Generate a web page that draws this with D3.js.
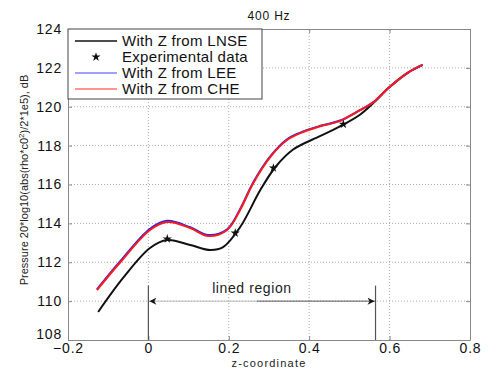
<!DOCTYPE html>
<html>
<head>
<meta charset="utf-8">
<script src="https://cdn.jsdelivr.net/npm/d3@7"></script>
<style>
  body { margin: 0; background: #fff; }
  text { font-family: "Liberation Sans", Arial, sans-serif; }
</style>
</head>
<body>
<div id="chart"></div>
<script>
// z-coordinate samples and pressure levels (dB)
const lnseZ = [-0.125, -0.063, 0.004, 0.047, 0.104, 0.154, 0.186, 0.228, 0.278, 0.316, 0.36, 0.428, 0.485, 0.527, 0.56, 0.597, 0.644, 0.682];
const lnseP = [109.44, 111.19, 112.73, 113.14, 112.89, 112.63, 112.78, 113.8, 115.7, 116.9, 117.8, 118.5, 119.08, 119.6, 120.2, 120.96, 121.73, 122.15];

const cheZ = [-0.128, -0.07, 0.004, 0.047, 0.104, 0.149, 0.196, 0.228, 0.261, 0.303, 0.345, 0.385, 0.428, 0.477, 0.527, 0.56, 0.597, 0.644, 0.682];
const cheP = [110.57, 112.0, 113.66, 114.07, 113.76, 113.35, 113.66, 114.69, 116.08, 117.41, 118.29, 118.7, 119.0, 119.27, 119.83, 120.24, 120.96, 121.73, 122.15];
const leeP = [110.6, 112.05, 113.72, 114.13, 113.8, 113.4, 113.7, 114.73, 116.12, 117.45, 118.33, 118.73, 119.02, 119.29, 119.84, 120.24, 120.96, 121.73, 122.15];

const expZ = [0.047, 0.216, 0.311, 0.485];
const expP = [113.2, 113.5, 116.85, 119.1];

const xTicks = [-0.2, 0, 0.2, 0.4, 0.6, 0.8];
const yTicks = [108, 110, 112, 114, 116, 118, 120, 122, 124];

const legendLabels = ['With Z from LNSE', 'Experimental data', 'With Z from LEE', 'With Z from CHE'];
const linedRegion = [0, 0.565];
const arrowLevel = 110;
const markerTop = 110.8;

const width = 488, height = 368;
const margin = { top: 29, right: 18, bottom: 28, left: 68 };

const svg = d3.select('#chart').append('svg')
  .attr('width', width)
  .attr('height', height);

const xScale = d3.scaleLinear().domain([-0.2, 0.8]).range([margin.left, width - margin.right]);
const yScale = d3.scaleLinear().domain([108, 124]).range([height - margin.bottom, margin.top]);

const x0 = margin.left, x1 = width - margin.right;
const y0 = height - margin.bottom, y1 = margin.top;

// dotted grid
svg.append('g').selectAll('line').data(xTicks.slice(1, -1)).enter().append('line')
  .attr('x1', d => xScale(d)).attr('x2', d => xScale(d))
  .attr('y1', y0).attr('y2', y1)
  .attr('stroke', '#aaa').attr('stroke-dasharray', '1,2');
svg.append('g').selectAll('line').data(yTicks.slice(1, -1)).enter().append('line')
  .attr('y1', d => yScale(d)).attr('y2', d => yScale(d))
  .attr('x1', x0).attr('x2', x1)
  .attr('stroke', '#aaa').attr('stroke-dasharray', '1,2');

// axes (matlab style, ticks inward, box)
const axisStyle = g => {
  g.select('.domain').attr('stroke', '#888');
  g.selectAll('.tick line').attr('stroke', '#888');
  g.selectAll('.tick text').attr('fill', '#111').style('font-size', '14px').style('letter-spacing', '0.8px')
    .style('font-family', '"Liberation Sans", Arial, sans-serif');
};
svg.append('g').attr('transform', `translate(0,${y0})`)
  .call(d3.axisBottom(xScale).tickValues(xTicks).tickSize(-4).tickSizeOuter(0).tickPadding(3).tickFormat(d3.format('')))
  .call(axisStyle);
svg.append('g').attr('transform', `translate(${x0},0)`)
  .call(d3.axisLeft(yScale).tickValues(yTicks).tickSize(-4).tickSizeOuter(0).tickPadding(6).tickFormat(d3.format('d')))
  .call(axisStyle)
  .call(g => g.selectAll('.tick text').filter(d => d === 108).attr('dy', '-0.12em'));
svg.append('g').attr('transform', `translate(0,${y1})`)
  .call(d3.axisTop(xScale).tickValues(xTicks).tickSize(-4).tickSizeOuter(0).tickFormat(''))
  .call(axisStyle);
svg.append('g').attr('transform', `translate(${x1},0)`)
  .call(d3.axisRight(yScale).tickValues(yTicks).tickSize(-4).tickSizeOuter(0).tickFormat(''))
  .call(axisStyle);

// curves
const line = d3.line().x(d => xScale(d[0])).y(d => yScale(d[1])).curve(d3.curveCatmullRom.alpha(0.5));

svg.append('path').datum(d3.zip(lnseZ, lnseP))
  .attr('d', line).attr('fill', 'none').attr('stroke', '#111').attr('stroke-width', 2);
svg.append('path').datum(d3.zip(cheZ, leeP))
  .attr('d', line).attr('fill', 'none').attr('stroke', '#2020ff').attr('stroke-width', 2);
svg.append('path').datum(d3.zip(cheZ, cheP))
  .attr('d', line).attr('fill', 'none').attr('stroke', '#ff1a1a').attr('stroke-width', 2);

// experimental points
const star = d3.symbol().type(d3.symbolStar).size(26);
svg.append('g').selectAll('path').data(d3.zip(expZ, expP)).enter().append('path')
  .attr('d', star)
  .attr('transform', d => `translate(${xScale(d[0])},${yScale(d[1])})`)
  .attr('fill', '#111');

// lined region annotation
svg.append('defs').append('marker')
  .attr('id', 'arr').attr('viewBox', '0 0 10 10').attr('refX', 10).attr('refY', 5)
  .attr('markerWidth', 9).attr('markerHeight', 7).attr('orient', 'auto-start-reverse')
  .append('path').attr('d', 'M0,0 L10,5 L0,10 L3,5 Z').attr('fill', '#111');

linedRegion.forEach(z => {
  svg.append('line')
    .attr('x1', xScale(z)).attr('x2', xScale(z))
    .attr('y1', yScale(markerTop)).attr('y2', y0)
    .attr('stroke', '#555').attr('stroke-width', 1.2);
});
const midZ = 0.27;
svg.append('line')
  .attr('x1', xScale(linedRegion[0]) + 1).attr('x2', xScale(midZ))
  .attr('y1', yScale(arrowLevel)).attr('y2', yScale(arrowLevel))
  .attr('stroke', '#bbb').attr('marker-start', 'url(#arr)');
svg.append('line')
  .attr('x1', xScale(midZ)).attr('x2', xScale(linedRegion[1]) - 1)
  .attr('y1', yScale(arrowLevel)).attr('y2', yScale(arrowLevel))
  .attr('stroke', '#555').attr('marker-end', 'url(#arr)');
svg.append('text')
  .attr('x', xScale((linedRegion[0] + linedRegion[1]) / 2) - 10)
  .attr('y', yScale(arrowLevel) - 8)
  .attr('text-anchor', 'middle')
  .style('font-size', '14px').style('letter-spacing', '0.6px')
  .attr('fill', '#222')
  .text('lined region');

// legend
const legend = svg.append('g');
legend.append('rect')
  .attr('x', x0).attr('y', y1).attr('width', 194).attr('height', 70)
  .attr('fill', '#fff').attr('stroke', '#444');
const legendColors = ['#111', null, '#8080ff', '#ff7070'];
legendLabels.forEach((lab, i) => {
  const ly = y1 + 12 + i * 16;
  if (legendColors[i]) {
    legend.append('line').attr('x1', x0 + 7).attr('x2', x0 + 49)
      .attr('y1', ly).attr('y2', ly).attr('stroke', legendColors[i]).attr('stroke-width', 1.5);
  } else {
    legend.append('path').attr('d', star)
      .attr('transform', `translate(${x0 + 28},${ly})`).attr('fill', '#111');
  }
  legend.append('text').attr('x', x0 + 54).attr('y', ly + 5)
    .style('font-size', '15px').style('letter-spacing', '0.3px')
    .attr('fill', '#111').text(lab);
});

// titles
svg.append('text')
  .attr('x', (x0 + x1) / 2).attr('y', 20)
  .attr('text-anchor', 'middle').style('font-size', '12px').style('letter-spacing', '0.8px')
  .attr('fill', '#111').text('400 Hz');
svg.append('text')
  .attr('x', (x0 + x1) / 2).attr('y', 367)
  .attr('text-anchor', 'middle').style('font-size', '11px').style('letter-spacing', '1.2px')
  .attr('fill', '#222').text('z-coordinate');

const ylab = svg.append('text')
  .attr('transform', `translate(28,${180}) rotate(-90)`)
  .attr('text-anchor', 'middle').style('font-size', '11px')
  .attr('fill', '#222');
ylab.append('tspan').text('Pressure 20*log10(abs(rho*c0');
ylab.append('tspan').attr('dy', -4).style('font-size', '8px').text('2');
ylab.append('tspan').attr('dy', 4).text(')/2*1e5), dB');
</script>
</body>
</html>
